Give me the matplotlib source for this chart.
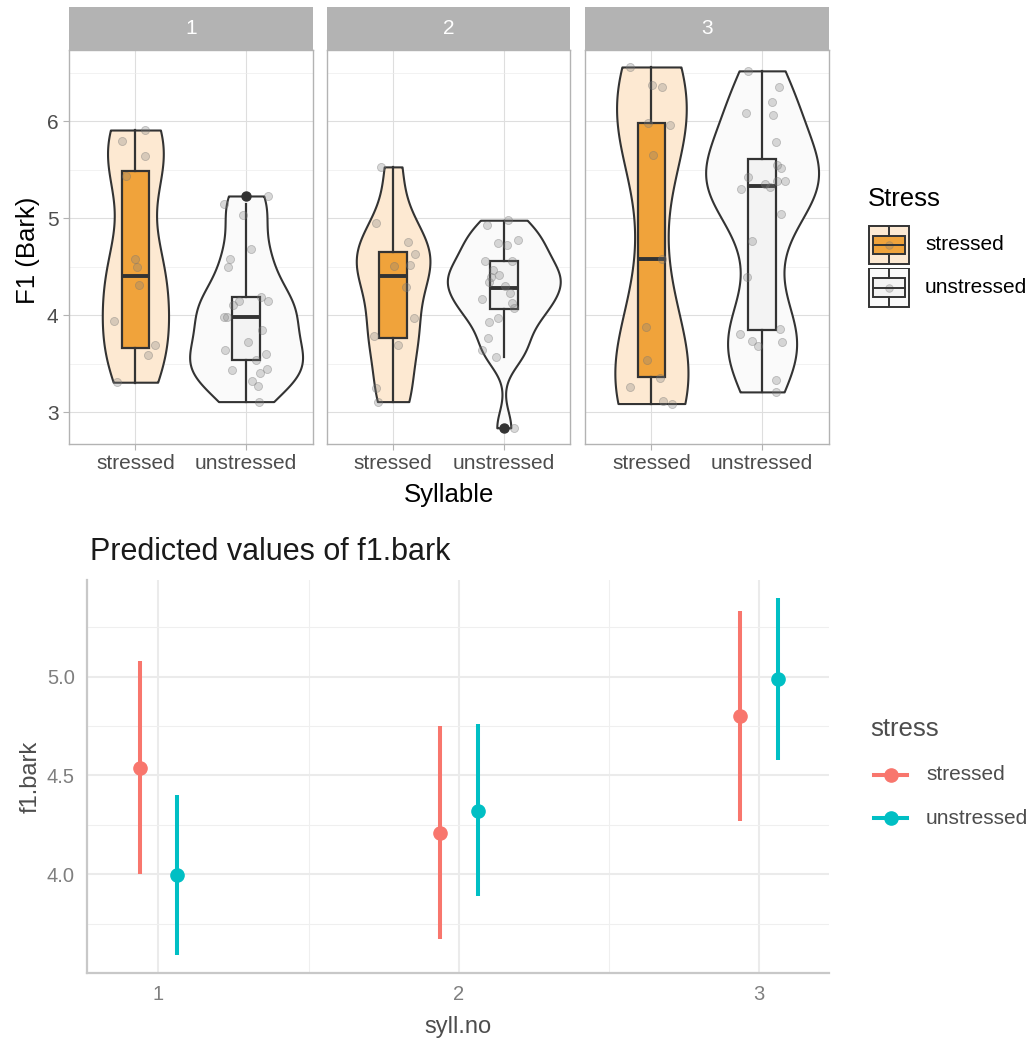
import numpy as np
import matplotlib
matplotlib.use("Agg")
import matplotlib.pyplot as plt
from matplotlib.patches import Rectangle
from matplotlib.lines import Line2D

plt.rcParams['font.family'] = ['Liberation Sans', 'DejaVu Sans']

W, H = 1034, 1039

syllables = ['1', '2', '3']
stress_levels = ['stressed', 'unstressed']

f1_1_str = [5.80, 5.91, 5.64, 5.44, 4.58, 4.50, 4.31, 3.94, 3.69, 3.59, 3.31]
jit_1_str = [-0.12, 0.085, 0.09, -0.085, -0.006, 0.018, 0.036, -0.194, 0.176, 0.115, -0.164]
f1_1_uns = [5.23, 5.15, 5.03, 4.68, 4.58, 4.50, 4.19, 4.15, 4.11, 4.15, 3.98, 3.98,
            3.85, 3.72, 3.64, 3.60, 3.54, 3.45, 3.44, 3.41, 3.32, 3.27, 3.11]
jit_1_uns = [0.194, -0.2, -0.03, 0.042, -0.145, -0.167, 0.133, 0.194, -0.115, -0.06, -0.2, -0.17,
             0.14, 0.018, -0.188, 0.176, 0.09, 0.188, -0.127, 0.127, 0.055, 0.109, 0.115]
f1_2_str = [5.53, 4.95, 4.76, 4.63, 4.51, 4.52, 4.29, 3.97, 3.79, 3.69, 3.25, 3.11]
jit_2_str = [-0.112, -0.158, 0.139, 0.197, 0.006, 0.152, 0.115, 0.188, -0.17, 0.042, -0.158, -0.133]
f1_2_uns = [4.98, 4.93, 4.75, 4.72, 4.78, 4.56, 4.56, 4.47, 4.42, 4.39, 4.34, 4.30,
            4.23, 4.17, 4.13, 4.07, 3.97, 3.93, 3.77, 3.64, 3.57, 2.84]
jit_2_uns = [0.039, -0.155, -0.052, 0.027, 0.124, -0.167, 0.076, -0.1, -0.045, -0.112, -0.13, 0.009,
             0.058, -0.197, 0.076, 0.088, -0.052, -0.136, -0.142, -0.197, -0.07, 0.088]
f1_3_str = [6.56, 6.37, 6.35, 5.98, 5.96, 5.65, 4.58, 3.88, 3.54, 3.35, 3.26, 3.12, 3.09]
jit_3_str = [-0.197, 0.009, 0.094, -0.033, 0.167, 0.015, 0.094, -0.045, -0.039, 0.082, -0.197, 0.106, 0.185]
f1_3_uns = [6.52, 6.35, 6.20, 6.09, 6.06, 5.79, 5.55, 5.52, 5.43, 5.38, 5.38, 5.35,
            5.32, 5.30, 5.04, 4.77, 4.39, 3.86, 3.81, 3.74, 3.68, 3.72, 3.33, 3.21]
jit_3_uns = [-0.127, 0.152, 0.094, -0.142, 0.097, 0.127, 0.136, 0.173, -0.127, 0.136, 0.203, 0.024,
             0.07, -0.191, 0.17, -0.091, -0.136, 0.164, -0.197, -0.088, -0.039, 0.176, 0.124, 0.124]

# boxplot summaries, order: (1,str), (1,uns), (2,str), (2,uns), (3,str), (3,uns)
box_q1 = [3.66, 3.54, 3.77, 4.06, 3.36, 3.85]
box_med = [4.40, 3.98, 4.40, 4.28, 4.58, 5.33]
box_q3 = [5.49, 4.19, 4.65, 4.56, 5.98, 5.61]
box_lo = [3.30, 3.11, 3.11, 3.57, 3.09, 3.21]
box_hi = [5.91, 5.15, 5.53, 4.97, 6.56, 6.52]
box_out = [[], [5.23], [], [2.84], [], []]

# ---- bottom panel: model predictions ----
pred_syll = [1, 2, 3]
pred_str = [4.54, 4.21, 4.80]
pred_str_lo = [4.00, 3.67, 4.27]
pred_str_hi = [5.08, 4.75, 5.33]
pred_uns = [3.995, 4.32, 4.99]
pred_uns_lo = [3.59, 3.89, 4.58]
pred_uns_hi = [4.40, 4.76, 5.40]

obs = [(f1_1_str, jit_1_str), (f1_1_uns, jit_1_uns),
       (f1_2_str, jit_2_str), (f1_2_uns, jit_2_uns),
       (f1_3_str, jit_3_str), (f1_3_uns, jit_3_uns)]

violin_fc = {'stressed': '#FDE9D2', 'unstressed': '#FAFAFA'}
box_fc = {'stressed': '#F0A33B', 'unstressed': '#F3F3F3'}
dark = '#333333'


def kde(vals, adjust=0.85):
    v = np.asarray(vals, float)
    iqr = np.percentile(v, 75) - np.percentile(v, 25)
    bw = adjust * 0.9 * min(v.std(ddof=1), iqr / 1.34) * len(v) ** -0.2
    grid = np.linspace(v.min(), v.max(), 300)
    d = np.exp(-0.5 * ((grid[:, None] - v[None, :]) / bw) ** 2).sum(1)
    d /= len(v) * bw * np.sqrt(2 * np.pi)
    return grid, d


fig = plt.figure(figsize=(W / 100, H / 100), dpi=100)

panel_left = [69, 326.7, 585]
panel_w = 243.5
top_y0, top_y1 = 50, 444
strip_h = 43

for p, syl in enumerate(syllables):
    ax = fig.add_axes([panel_left[p] / W, 1 - top_y1 / H, panel_w / W, (top_y1 - top_y0) / H])
    ax.set_xlim(0.4, 2.6)
    ax.set_ylim(2.673, 6.735)
    ax.set_yticks([3, 4, 5, 6])
    ax.set_yticks([3.5, 4.5, 5.5, 6.5], minor=True)
    ax.set_xticks([1, 2])
    ax.set_xticklabels(stress_levels)
    ax.grid(True, which='major', color='#DEDEDE', lw=0.8, zorder=0)
    ax.grid(True, which='minor', axis='y', color='#EDEDED', lw=0.5, zorder=0)
    ax.set_axisbelow(True)
    for s in ax.spines.values():
        s.set_color('#B3B3B3')
        s.set_linewidth(1.0)
    ax.tick_params(which='major', length=4.5, width=0.8, color='#B3B3B3',
                   labelsize=15, labelcolor='#4D4D4D', pad=3)
    ax.tick_params(which='minor', length=0)
    if p > 0:
        ax.tick_params(axis='y', left=False, labelleft=False)

    dens = []
    for k in range(2):
        dens.append(kde(obs[2 * p + k][0]))
    scale = 0.51 / max(d.max() for _, d in dens)
    for k, lev in enumerate(stress_levels):
        g, d = dens[k]
        pos = k + 1
        hw = d * scale
        ax.fill_betweenx(g, pos - hw, pos + hw, facecolor=violin_fc[lev],
                         edgecolor=dark, lw=1.5, zorder=2)
        i = 2 * p + k
        st = [{'med': box_med[i], 'q1': box_q1[i], 'q3': box_q3[i],
               'whislo': box_lo[i], 'whishi': box_hi[i], 'fliers': box_out[i]}]
        ax.bxp(st, positions=[pos], widths=0.25, patch_artist=True, showcaps=False,
               boxprops=dict(facecolor=box_fc[lev], edgecolor=dark, lw=1.6),
               medianprops=dict(color=dark, lw=2.8),
               whiskerprops=dict(color=dark, lw=1.6),
               flierprops=dict(marker='o', markerfacecolor=dark, markeredgecolor=dark,
                               markersize=6.5),
               manage_ticks=False, zorder=3)
        vals, jit = obs[i]
        ax.scatter(pos + np.asarray(jit), vals, s=34, facecolor=(0.5, 0.5, 0.5, 0.3),
                   edgecolor=(0.45, 0.45, 0.45, 0.4), lw=0.6, zorder=5)

    ax.add_patch(Rectangle((0, 1), 1, strip_h / (top_y1 - top_y0), transform=ax.transAxes,
                           facecolor='#B3B3B3', edgecolor='none', clip_on=False))
    ax.text(0.5, 1 + strip_h / 2 / (top_y1 - top_y0), syl, transform=ax.transAxes,
            ha='center', va='center', color='white', fontsize=15)

fig.text(28 / W, 1 - 250 / H, 'F1 (Bark)', rotation=90, ha='center', va='center', fontsize=18.5)
fig.text(449 / W, 1 - 495 / H, 'Syllable', ha='center', va='center', fontsize=18.5)

# top legend
fig.text(868 / W, 1 - 199 / H, 'Stress', ha='left', va='center', fontsize=18.5)
for k, lev in enumerate(stress_levels):
    ytop = 225 + k * 42.5
    kax = fig.add_axes([868 / W, 1 - (ytop + 40) / H, 42 / W, 40 / H])
    kax.set_xlim(0, 1)
    kax.set_ylim(0, 1)
    kax.axis('off')
    kax.add_patch(Rectangle((0.02, 0.02), 0.96, 0.96, facecolor=violin_fc[lev], edgecolor=dark, lw=1.4))
    kax.add_patch(Rectangle((0.12, 0.27), 0.76, 0.46, facecolor=box_fc[lev], edgecolor=dark, lw=1.4))
    kax.plot([0.5, 0.5], [0.05, 0.27], color=dark, lw=1.4)
    kax.plot([0.5, 0.5], [0.73, 0.95], color=dark, lw=1.4)
    kax.plot([0.12, 0.88], [0.5, 0.5], color=dark, lw=1.4)
    kax.scatter([0.5], [0.5], s=30, facecolor=(0.5, 0.5, 0.5, 0.3),
                edgecolor=(0.45, 0.45, 0.45, 0.35), lw=0.6)
    fig.text(925 / W, 1 - (ytop + 20) / H, lev, ha='left', va='center', fontsize=15)

# ---- bottom panel ----
col = {'stressed': '#F8766D', 'unstressed': '#00BFC4'}
bx = fig.add_axes([87.3 / W, 1 - 973 / H, (829 - 87.3) / W, (973 - 580) / H])
bx.set_xlim(0.763, 3.233)
bx.set_ylim(3.50, 5.489)
bx.set_xticks([1, 2, 3])
bx.set_xticks([1.5, 2.5], minor=True)
bx.set_yticks([4.0, 4.5, 5.0])
bx.set_yticklabels(['4.0', '4.5', '5.0'])
bx.set_yticks([3.75, 4.25, 4.75, 5.25], minor=True)
bx.grid(True, which='major', color='#EBEBEB', lw=1.5)
bx.grid(True, which='minor', color='#EFEFEF', lw=0.8)
bx.set_axisbelow(True)
for s in ['top', 'right']:
    bx.spines[s].set_visible(False)
for s in ['left', 'bottom']:
    bx.spines[s].set_color('#C8C8C8')
    bx.spines[s].set_linewidth(1.6)
bx.tick_params(which='both', length=0, labelsize=14.5, labelcolor='#7F7F7F', pad=9)

dodge = 0.0625
for lev, m, lo, hi, off in [('stressed', pred_str, pred_str_lo, pred_str_hi, -dodge),
                            ('unstressed', pred_uns, pred_uns_lo, pred_uns_hi, dodge)]:
    xs = np.asarray(pred_syll) + off
    bx.vlines(xs, lo, hi, color=col[lev], lw=2.9, zorder=3)
    bx.plot(xs, m, 'o', color=col[lev], markersize=9.5, zorder=4)

fig.text(90 / W, 1 - 560 / H, 'Predicted values of f1.bark', ha='left', va='baseline',
         fontsize=22, color='#1A1A1A')
bx.set_xlabel('syll.no', fontsize=17, color='#4D4D4D', labelpad=8)
bx.set_ylabel('f1.bark', fontsize=17, color='#4D4D4D', labelpad=4)

# bottom legend
fig.text(870 / W, 1 - 729 / H, 'stress', ha='left', va='center', fontsize=18.5, color='#4D4D4D')
for k, lev in enumerate(stress_levels):
    yk = 1 - (775 + k * 43) / H
    fig.add_artist(Line2D([874 / W, 907 / W], [yk, yk], color=col[lev], lw=2.9))
    fig.add_artist(Line2D([890.5 / W], [yk], marker='o', color=col[lev], markersize=9.5))
    fig.text(926 / W, yk, lev, ha='left', va='center', fontsize=15, color='#4D4D4D')

fig.savefig('out.png', dpi=100)
